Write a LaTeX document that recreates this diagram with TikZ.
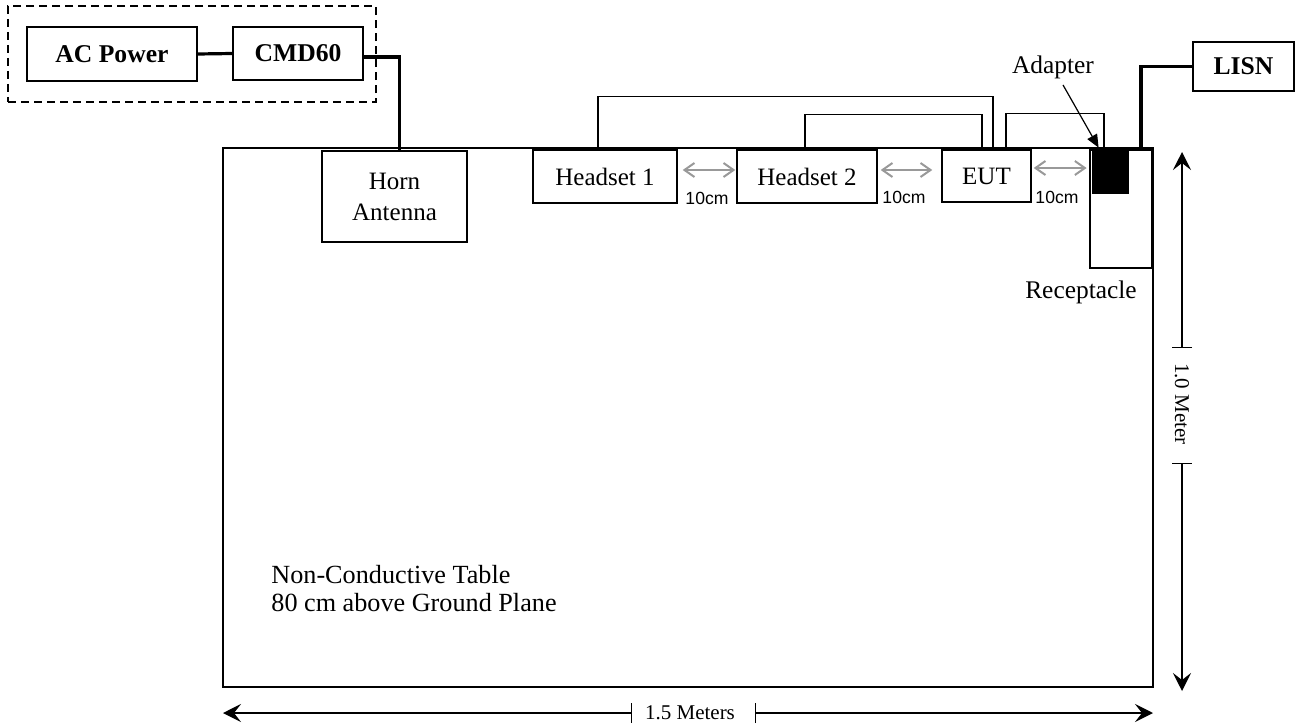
\documentclass[tikz,border=0pt]{standalone}
\usepackage{fontspec}
\setmainfont{Liberation Serif}
\newfontfamily\arialfont{Liberation Sans}
\usetikzlibrary{arrows.meta,calc}
\begin{document}
\begin{tikzpicture}[x=0.5pt,y=-0.5pt,
  box/.style={draw, line width=0.7pt, inner sep=0pt, align=center, font=\fontsize{12.5}{15.5}\selectfont},
  boldbox/.style={box, font=\fontsize{12.8}{15}\selectfont\bfseries},
  lbl/.style={inner sep=0pt, font=\fontsize{12.7}{14}\selectfont},
  heavy/.style={line width=1.6pt},
  cable/.style={line width=0.75pt},
  gapar/.style={draw=black!40, line width=1pt, {Straight Barb[length=5pt,width=7pt]}-{Straight Barb[length=5pt,width=7pt]}},
  cmlbl/.style={inner sep=0pt, font=\arialfont\fontsize{8.8}{10}\selectfont},
  dimtxt/.style={inner sep=0pt, font=\fontsize{10.5}{12}\selectfont},
  dim/.style={line width=0.7pt, {Bar[width=10pt]}-{Stealth[length=9pt,width=9pt,inset=3.5pt]}}
]
\useasboundingbox (0,0) rectangle (1298,728);

% group and source boxes
\node[draw, dashed, dash pattern=on 4pt off 2.5pt, line width=0.7pt, inner sep=0pt,
      minimum width=184pt, minimum height=48pt] (grp) at (192,54) {};
\node[boldbox, minimum width=85pt, minimum height=27pt] (ac) at (112,54) {AC Power};
\node[boldbox, minimum width=65pt, minimum height=26.5pt] (cmd) at (298,53.5) {CMD60};

% table
\node[draw, line width=1.4pt, inner sep=0pt, minimum width=465pt, minimum height=269.5pt] (table) at (688,417.5) {};

% devices on table
\node[box, minimum width=72.5pt, minimum height=45.5pt] (horn) at (394.5,196.5) {Horn\\Antenna};
\node[box, minimum width=72pt, minimum height=26.5pt] (h1) at (605,176.5) {Headset 1};
\node[box, minimum width=70pt, minimum height=26.5pt] (h2) at (807,176.5) {Headset 2};
\node[box, minimum width=44.5pt, minimum height=26pt] (eut) at (986.5,176) {EUT};
\node[box, minimum width=31pt, minimum height=59pt] (rcp) at (1121,209) {};
\node[draw, fill=black, inner sep=0pt, minimum width=18pt, minimum height=21.5pt] (adp) at (1110,171.5) {};
\node[boldbox, minimum width=50.5pt, minimum height=24.5pt] (lisn) at (1243.5,66.5) {LISN};

% labels
\node[lbl] (adtxt) at (1053,67) {Adapter};
\node[lbl] (rctxt) at (1081,292) {Receptacle};
\node[lbl, anchor=west, align=left, font=\fontsize{13.1}{14}\selectfont] (note) at (271,589) {Non-Conductive Table\\80 cm above Ground Plane};

% cables
\draw[heavy] (ac.east) -- (cmd.west);
\draw[heavy] ([yshift=-1.75pt]cmd.east) -| ([xshift=2.5pt]horn.north);
\draw[heavy] (lisn.west) -| ([xshift=10pt]rcp.north);
\draw[cable] ([xshift=-3.5pt]h1.north) |- ([xshift=3.25pt,yshift=26.5pt]eut.north) -- ([xshift=3.25pt]eut.north);
\draw[cable] ([xshift=-1pt]h2.north) |- ([xshift=-2.25pt,yshift=17.5pt]eut.north) -- ([xshift=-2.25pt]eut.north);
\draw[cable] ([xshift=9.75pt]eut.north) |- ([xshift=-3pt,yshift=18pt]adp.north) -- ([xshift=-3pt]adp.north);

% adapter pointer
\draw[line width=0.6pt, -{Triangle[length=6.5pt,width=5.5pt]}] ([xshift=5pt,yshift=-3pt]adtxt.south) -- ([xshift=3.5pt,yshift=1pt]adp.north west);

% 10 cm spacings
\draw[gapar] ([xshift=2.5pt,yshift=3.25pt]h1.east) -- ([xshift=-0.5pt,yshift=3.25pt]h2.west);
\draw[gapar] ([xshift=1.5pt,yshift=3.25pt]h2.east) -- ([xshift=-4.5pt,yshift=3pt]eut.west);
\draw[gapar] ([xshift=1pt,yshift=4pt]eut.east) -- ([xshift=-2.5pt,yshift=1.75pt]adp.west);
\node[cmlbl] (cm1) at (707,198) {10cm};
\node[cmlbl] (cm2) at (904,197) {10cm};
\node[cmlbl] (cm3) at (1057,197) {10cm};

% dimensions
\coordinate (hL) at (223,713);
\coordinate (hR) at (1153,713);
\coordinate (hT1) at (632,713);
\coordinate (hT2) at (755,713);
\node[dimtxt] (hm) at (690,713) {1.5 Meters};
\draw[dim] (hT1) -- (hL);
\draw[dim] (hT2) -- (hR);

\coordinate (vT) at (1182,152);
\coordinate (vB) at (1182,691);
\coordinate (vT1) at (1182,348);
\coordinate (vT2) at (1182,463);
\node[dimtxt, rotate=-90] (vm) at (1182,404) {1.0 Meter};
\draw[dim] (vT1) -- (vT);
\draw[dim] (vT2) -- (vB);
\end{tikzpicture}
\end{document}
